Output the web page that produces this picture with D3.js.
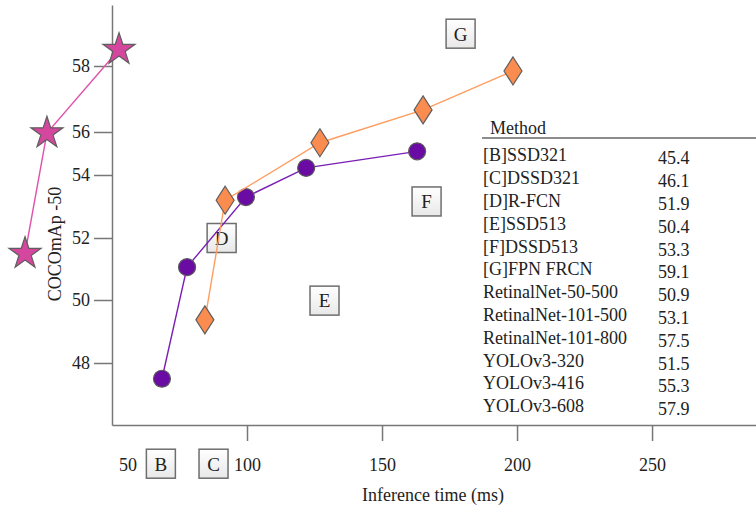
<!DOCTYPE html>
<html>
<head>
<meta charset="utf-8">
<script src="https://cdn.jsdelivr.net/npm/d3@7"></script>
<style>
  body { margin: 0; background: #fff; }
  text { font-family: "Liberation Serif", "DejaVu Serif", serif; fill: #222; }
</style>
</head>
<body>
<div id="chart"></div>
<script>
// values (inference time in ms, COCO mAP-50)
const yoloTime = [17.8, 25.9, 52.6];
const yoloAP = [51.5, 55.95, 58.5];

const retina50Time = [68.5, 77.8, 99.6, 121.9, 163];
const retina50AP = [47.5, 51.06, 53.3, 54.33, 55.1];

const retina101Time = [84.4, 91.9, 127, 165.2, 198.5];
const retina101AP = [49.37, 53.2, 55.5, 56.67, 57.85];

const boxLetters = ["B", "C", "D", "E", "F", "G"];
const boxTime = [68.1, 87.6, 90.6, 128.7, 166.5, 179.1];
const boxAP = [44.8, 44.8, 52.0, 49.98, 53.16, 58.98];

const methodNames = ["[B]SSD321", "[C]DSSD321", "[D]R-FCN", "[E]SSD513", "[F]DSSD513", "[G]FPN FRCN",
  "RetinalNet-50-500", "RetinalNet-101-500", "RetinalNet-101-800", "YOLOv3-320", "YOLOv3-416", "YOLOv3-608"];
const methodAP = ["45.4", "46.1", "51.9", "50.4", "53.3", "59.1", "50.9", "53.1", "57.5", "51.5", "55.3", "57.9"];

const xTicks = [100, 150, 200, 250];
const yTicks = [48, 50, 52, 54, 56, 58];

let width = 756, height = 511;

// the y axis in the figure is not evenly spaced, so a piecewise scale
let x = d3.scaleLinear().domain([50, 288.5]).range([112, 756]);
let y = d3.scaleLinear()
    .domain([46.03, 48, 50, 52, 54, 56, 58, 59.85])
    .range([425, 363, 300, 238, 175, 132, 66, 5]);

let svg = d3.select("#chart").append("svg")
    .attr("width", width)
    .attr("height", height);

let defs = svg.append("defs");
let grad = defs.append("linearGradient")
    .attr("id", "boxfill")
    .attr("x1", 0).attr("y1", 0).attr("x2", 0).attr("y2", 1);
grad.append("stop").attr("offset", "0%").attr("stop-color", "#ffffff");
grad.append("stop").attr("offset", "100%").attr("stop-color", "#e8e8e8");

// axes
let xAxis = d3.axisBottom(x).tickValues(xTicks).tickSize(16).tickSizeOuter(0).tickPadding(17);
let yAxis = d3.axisLeft(y).tickValues(yTicks).tickSize(18).tickSizeOuter(0).tickPadding(4);

let gx = svg.append("g")
    .attr("transform", "translate(0," + y.range()[0] + ")")
    .call(xAxis);
let gy = svg.append("g")
    .attr("transform", "translate(" + x(50) + ",0)")
    .call(yAxis);

[gx, gy].forEach(function(g) {
    g.selectAll("path, line").attr("stroke", "#777").attr("stroke-width", 1.5);
    g.selectAll("text").style("font-family", '"Liberation Serif", serif')
        .style("font-size", "18px").attr("fill", "#222");
});

svg.append("text")
    .attr("x", x(50) + 16)
    .attr("y", y.range()[0] + 46)
    .attr("text-anchor", "middle")
    .style("font-size", "18px")
    .text("50");

svg.append("text")
    .attr("x", 433)
    .attr("y", 501)
    .attr("text-anchor", "middle")
    .style("font-size", "18px")
    .text("Inference time (ms)");

svg.append("text")
    .attr("transform", "translate(61,244) rotate(-90)")
    .attr("text-anchor", "middle")
    .style("font-size", "18px")
    .text("COCOmAp -50");

// letter boxes (drawn under the lines)
let boxSize = 29;
let boxes = svg.selectAll(".lbox")
    .data(boxLetters.map(function(l, i) { return {l: l, t: boxTime[i], ap: boxAP[i]}; }))
    .enter().append("g")
    .attr("class", "lbox")
    .attr("transform", function(d) { return `translate(${x(d.t)}, ${y(d.ap)})`; });

boxes.append("rect")
    .attr("x", -boxSize / 2).attr("y", -boxSize / 2)
    .attr("width", boxSize).attr("height", boxSize)
    .attr("fill", "url(#boxfill)")
    .attr("stroke", "#6e6e6e")
    .attr("stroke-width", 1.5);

boxes.append("text")
    .attr("text-anchor", "middle")
    .attr("dy", "0.36em")
    .style("font-size", "19px")
    .text(function(d) { return d.l; });

// series
let series = [
    {time: yoloTime, ap: yoloAP, line: "#e052ac", fill: "#d5479f", shape: "star"},
    {time: retina50Time, ap: retina50AP, line: "#7a1fb4", fill: "#6a0ca4", shape: "circle"},
    {time: retina101Time, ap: retina101AP, line: "#ff9d60", fill: "#fb8c4f", shape: "diamond"}
];

let line = d3.line()
    .x(function(d) { return x(d.t); })
    .y(function(d) { return y(d.ap); });

let starPath = d3.symbol().type(d3.symbolStar).size(320)();
let diamondPath = "M0,-14L9,0L0,14L-9,0Z";

series.forEach(function(s) {
    let pts = s.time.map(function(t, i) { return {t: t, ap: s.ap[i]}; });

    svg.append("path")
        .datum(pts)
        .attr("fill", "none")
        .attr("stroke", s.line)
        .attr("stroke-width", 1.4)
        .attr("d", line);

    let marks = svg.selectAll(null)
        .data(pts)
        .enter();

    if (s.shape == "circle") {
        marks.append("circle")
            .attr("cx", function(d) { return x(d.t); })
            .attr("cy", function(d) { return y(d.ap); })
            .attr("r", 8.5)
            .attr("fill", s.fill)
            .attr("stroke", "#5a5a5a")
            .attr("stroke-width", 1.2);
    } else {
        marks.append("path")
            .attr("d", s.shape == "star" ? starPath : diamondPath)
            .attr("transform", function(d) { return `translate(${x(d.t)}, ${y(d.ap)})`; })
            .attr("fill", s.fill)
            .attr("stroke", "#5e5e5e")
            .attr("stroke-width", 1.2);
    }
});

// method table
svg.append("text")
    .attr("x", 490)
    .attr("y", 134)
    .style("font-size", "18px")
    .text("Method");

svg.append("line")
    .attr("x1", 482).attr("x2", width)
    .attr("y1", 138).attr("y2", 138)
    .attr("stroke", "#666")
    .attr("stroke-width", 1.3);

let rows = svg.selectAll(".row")
    .data(methodNames)
    .enter().append("g")
    .attr("class", "row")
    .attr("transform", function(d, i) { return `translate(0, ${155 + i * 22.8})`; });

rows.append("text")
    .attr("x", 483)
    .attr("dy", "0.35em")
    .style("font-size", "18px")
    .text(function(d) { return d; });

rows.append("text")
    .attr("x", 658)
    .attr("y", 3)
    .attr("dy", "0.35em")
    .style("font-size", "18px")
    .text(function(d, i) { return methodAP[i]; });
</script>
</body>
</html>
